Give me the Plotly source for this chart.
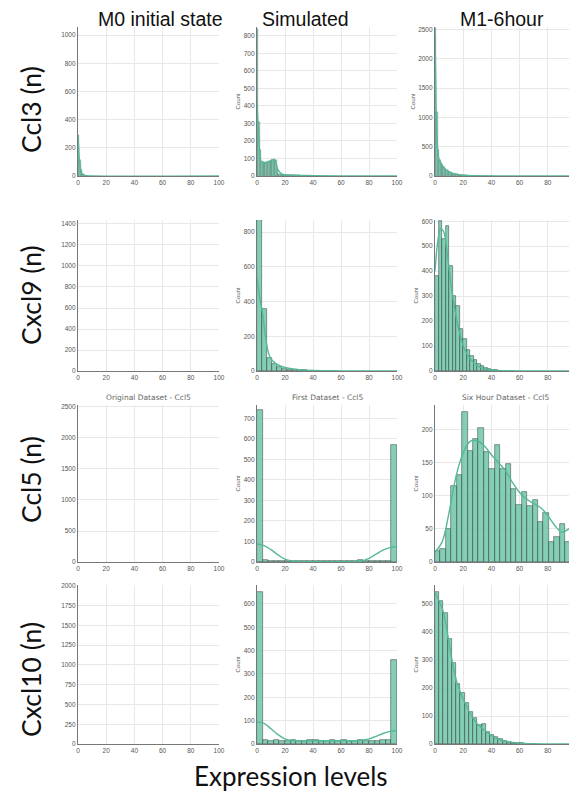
import plotly.graph_objects as go

W, H = 577, 796
OFF = 8  # default body margin of the page
FW, FH = W - OFF, H - OFF

# ---------------- data ----------------
col_titles = ["M0 initial state", "Simulated", "M1-6hour"]
row_labels = ["Ccl3 (n)", "Cxcl9 (n)", "Ccl5 (n)", "Cxcl10 (n)"]
x_title = "Expression levels"
x_ticks = [0, 20, 40, 60, 80, 100]

# Row 1: Ccl3
ccl3_m0_binw = 1.0
ccl3_m0_counts = [290, 110, 40, 15, 6, 3, 2, 1]
ccl3_m0_kde_x = [0, 0.5, 1, 2, 3, 4, 6, 10, 100]
ccl3_m0_kde_y = [280, 200, 110, 40, 15, 6, 2, 0, 0]

ccl3_sim_binw = 1.0
ccl3_sim_counts = [840, 310, 150, 80, 78, 76, 80, 82, 85, 84, 90, 94, 96, 92, 40,
                   12, 9, 8, 7, 6, 6, 5, 5, 5, 4, 4, 4, 3, 3, 3,
                   3, 2, 2, 2, 2, 2, 1, 1, 1, 1]
ccl3_sim_kde_x = [0, 1, 2, 3, 6, 9, 11, 13, 15, 18, 25, 40, 60, 100]
ccl3_sim_kde_y = [420, 260, 130, 85, 76, 84, 93, 85, 35, 10, 5, 2, 0, 0]

ccl3_m1_binw = 1.0
ccl3_m1_counts = [2520, 1100, 450, 280, 230, 190, 150, 120, 95, 80,
                  65, 55, 45, 40, 35, 30, 25, 22, 18, 15,
                  12, 10, 9, 8, 7, 6, 5, 5, 4, 4,
                  3, 3, 3, 2, 2, 2, 2, 1, 1, 1, 1, 1]
ccl3_m1_kde_x = [0, 0.5, 1, 2, 3, 5, 8, 12, 16, 20, 30, 40, 60, 100]
ccl3_m1_kde_y = [2400, 1700, 900, 420, 270, 180, 100, 50, 28, 14, 5, 2, 0, 0]

# Row 2: Cxcl9
cxcl9_sim_binw = 100 / 28
cxcl9_sim_counts = [870, 355, 75, 40, 22, 12, 8, 6, 4, 3, 2, 2, 1, 1, 1]
cxcl9_sim_kde_x = [0, 2, 4, 6, 8, 10, 14, 20, 30, 40, 60, 100]
cxcl9_sim_kde_y = [540, 420, 330, 200, 110, 70, 40, 20, 8, 3, 1, 0]

cxcl9_m1_binw = 2.5
cxcl9_m1_counts = [380, 600, 530, 580, 420, 300, 260, 170, 130, 85,
                   60, 45, 30, 20, 12, 8, 5, 3, 2, 1]
cxcl9_m1_kde_x = [0, 2, 4, 6, 8, 10, 12, 14, 16, 18, 20, 24, 28, 32, 36, 42, 50, 100]
cxcl9_m1_kde_y = [400, 520, 570, 560, 500, 410, 320, 250, 190, 140, 100, 55, 30, 15, 8, 3, 1, 0]

# Row 3: Ccl5
ccl5_sim_binw = 4.0
ccl5_sim_counts = [740, 8, 5, 6, 7, 5, 6, 5, 4, 6, 5, 6, 5, 4, 6, 5, 6, 7, 8, 6, 5, 4, 5, 6, 570]
ccl5_sim_kde_x = [0, 5, 10, 15, 20, 25, 30, 40, 60, 70, 75, 80, 85, 90, 95, 100]
ccl5_sim_kde_y = [88, 80, 60, 35, 14, 5, 2, 1, 1, 2, 6, 18, 38, 58, 70, 74]

ccl5_m1_binw = 100 / 26
ccl5_m1_counts = [17, 19, 50, 115, 132, 227, 168, 186, 203, 166, 141, 177, 141,
                  148, 110, 86, 106, 84, 93, 61, 74, 30, 38, 58, 30, 167]
ccl5_m1_kde_x = [0, 5, 10, 15, 20, 25, 30, 35, 40, 45, 50, 55, 60, 65, 70, 75, 80, 85, 90, 95, 100]
ccl5_m1_kde_y = [15, 30, 75, 130, 165, 182, 183, 175, 162, 150, 138, 120, 105, 95, 88, 82, 70, 55, 45, 50, 55]

# Row 4: Cxcl10
cxcl10_sim_binw = 4.0
cxcl10_sim_counts = [650, 18, 15, 16, 14, 15, 17, 15, 14, 16, 18, 15, 14, 16, 15, 17,
                     15, 14, 16, 15, 14, 15, 17, 16, 360]
cxcl10_sim_kde_x = [0, 5, 10, 15, 20, 25, 30, 50, 70, 75, 80, 85, 90, 95, 100]
cxcl10_sim_kde_y = [95, 88, 65, 40, 22, 15, 14, 14, 14, 16, 22, 33, 45, 54, 58]

cxcl10_m1_binw = 3.0
cxcl10_m1_counts = [544, 512, 469, 374, 288, 214, 181, 145, 115, 92, 68, 72, 44, 32,
                    26, 17, 12, 8, 5, 4, 2, 1, 1]
cxcl10_m1_kde_x = [0, 3, 6, 9, 12, 15, 18, 21, 24, 27, 30, 33, 36, 39, 42, 45, 50, 55, 60, 70, 100]
cxcl10_m1_kde_y = [540, 510, 470, 390, 300, 230, 185, 150, 118, 92, 72, 58, 45, 33, 24, 17, 10, 6, 3, 1, 0]

# y-axis ticks per panel
yticks = [
    [0, 200, 400, 600, 800, 1000], [0, 100, 200, 300, 400, 500, 600, 700, 800], [0, 500, 1000, 1500, 2000, 2500],
    [0, 200, 400, 600, 800, 1000, 1200, 1400], [0, 200, 400, 600, 800], [0, 100, 200, 300, 400, 500, 600],
    [0, 500, 1000, 1500, 2000, 2500], [0, 100, 200, 300, 400, 500, 600, 700], [0, 50, 100, 150, 200],
    [0, 250, 500, 750, 1000, 1250, 1500, 1750, 2000], [0, 100, 200, 300, 400, 500, 600], [0, 100, 200, 300, 400, 500],
]
ymax = [1057, 850, 2545, 1438, 870, 605, 2532, 765, 237, 2010, 681, 568]
panel_titles = {7: "Original Dataset - Ccl5", 8: "First Dataset - Ccl5", 9: "Six Hour Dataset - Ccl5"}

panels = [
    (ccl3_m0_binw, ccl3_m0_counts, ccl3_m0_kde_x, ccl3_m0_kde_y),
    (ccl3_sim_binw, ccl3_sim_counts, ccl3_sim_kde_x, ccl3_sim_kde_y),
    (ccl3_m1_binw, ccl3_m1_counts, ccl3_m1_kde_x, ccl3_m1_kde_y),
    None,
    (cxcl9_sim_binw, cxcl9_sim_counts, cxcl9_sim_kde_x, cxcl9_sim_kde_y),
    (cxcl9_m1_binw, cxcl9_m1_counts, cxcl9_m1_kde_x, cxcl9_m1_kde_y),
    None,
    (ccl5_sim_binw, ccl5_sim_counts, ccl5_sim_kde_x, ccl5_sim_kde_y),
    (ccl5_m1_binw, ccl5_m1_counts, ccl5_m1_kde_x, ccl5_m1_kde_y),
    None,
    (cxcl10_sim_binw, cxcl10_sim_counts, cxcl10_sim_kde_x, cxcl10_sim_kde_y),
    (cxcl10_m1_binw, cxcl10_m1_counts, cxcl10_m1_kde_x, cxcl10_m1_kde_y),
]

# ---------------- layout geometry (window pixels) ----------------
col_px = [(78, 219), (257, 397), (435, 576)]
row_px = [(176, 27), (371, 220), (562, 405), (744, 585)]


def fx(px):
    return (px - OFF) / FW


def fy(py):
    return 1 - (py - OFF) / FH


BAR = "rgba(110,198,168,0.85)"
EDGE = "rgba(45,60,55,0.7)"
LINE = "#55b896"
GRID = "#e8e8e8"
AX = "#777777"
TICKF = dict(family="Liberation Sans, Arial", size=6.5, color="#555555")

fig = go.Figure()
layout = {}
annotations = []

for k in range(1, 13):
    r, c = (k - 1) // 3, (k - 1) % 3
    sfx = "" if k == 1 else str(k)
    xa, ya = "x" + sfx, "y" + sfx
    p = panels[k - 1]
    if p is not None:
        binw, counts, kx, ky = p
        centers = [binw * (i + 0.5) for i in range(len(counts))]
        lw = 0.3 if binw < 2 else 0.7
        fig.add_trace(go.Bar(x=centers, y=counts, width=binw, xaxis=xa, yaxis=ya,
                             marker=dict(color=BAR, line=dict(color=EDGE, width=lw)),
                             showlegend=False, hoverinfo="skip"))
        fig.add_trace(go.Scatter(x=kx, y=ky, mode="lines", xaxis=xa, yaxis=ya,
                                 line=dict(color=LINE, width=1.4, shape="spline"),
                                 showlegend=False, hoverinfo="skip"))
    else:
        # empty panel: invisible placeholder so the axes are drawn
        fig.add_trace(go.Scatter(x=[0], y=[0], mode="markers", xaxis=xa, yaxis=ya,
                                 marker=dict(size=1, opacity=0), showlegend=False, hoverinfo="skip"))
    x0, x1 = col_px[c]
    yb, yt = row_px[r]
    layout["xaxis" + sfx] = dict(domain=[fx(x0), fx(x1)], anchor=ya, range=[0, 100], automargin=False,
                                 tickvals=x_ticks, tickfont=TICKF, showgrid=True, gridcolor=GRID,
                                 gridwidth=1, showline=True, linecolor=AX, linewidth=1.2,
                                 zeroline=False, ticks="", ticklen=0)
    ydict = dict(domain=[fy(yb), fy(yt)], anchor=xa, range=[0, ymax[k - 1]], automargin=False,
                 tickvals=yticks[k - 1], tickfont=TICKF, showgrid=True, gridcolor=GRID,
                 gridwidth=1, showline=True, linecolor=AX, linewidth=1.2,
                 zeroline=False, ticks="", ticklen=0)
    if c > 0:
        ydict["title"] = dict(text="Count", font=dict(family="Liberation Sans, Arial", size=6, color="#555555"),
                              standoff=2)
    layout["yaxis" + sfx] = ydict
    if k in panel_titles:
        annotations.append(dict(text=panel_titles[k], x=fx((x0 + x1) / 2), y=fy(397), xref="paper", yref="paper",
                                showarrow=False, xanchor="center", yanchor="middle",
                                font=dict(family="DejaVu Sans", size=7.5, color="#666666")))

col_cx = [160, 305, 502]
for t, cx in zip(col_titles, col_cx):
    annotations.append(dict(text=t, x=fx(cx), y=fy(19), xref="paper", yref="paper", showarrow=False,
                            xanchor="center", yanchor="middle",
                            font=dict(family="Liberation Sans, Arial", size=19.5, color="#111111")))

row_cy = [110, 295, 480, 680]
for t, cy in zip(row_labels, row_cy):
    annotations.append(dict(text=t, x=fx(31), y=fy(cy), xref="paper", yref="paper", showarrow=False,
                            xanchor="center", yanchor="middle", textangle=-90,
                            font=dict(family="Lato", size=26.5, color="#111111")))

annotations.append(dict(text=x_title, x=fx(291), y=fy(776), xref="paper", yref="paper", showarrow=False,
                        xanchor="center", yanchor="middle",
                        font=dict(family="Lato", size=26, color="#111111")))

fig.update_layout(width=FW, height=FH, margin=dict(l=0, r=0, t=0, b=0, autoexpand=False),
                  paper_bgcolor="white", plot_bgcolor="white", bargap=0,
                  annotations=annotations, **layout)

fig.write_html("out.html")
